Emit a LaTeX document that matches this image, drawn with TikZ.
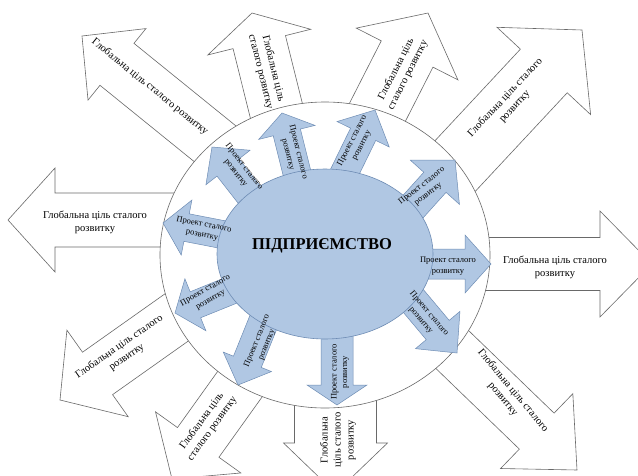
\documentclass[tikz,border=0pt]{standalone}
\usepackage{fontspec}
\setmainfont{Liberation Serif}
\usetikzlibrary{shapes.geometric}
\definecolor{pblue}{RGB}{176,199,227}
\definecolor{pedge}{RGB}{110,140,180}
\definecolor{gline}{RGB}{105,105,105}
% #1 style, #2 tip x, #3 tip y, #4 angle, #5 length, #6 body half-width, #7 head half-width, #8 head length
\newcommand{\blockarr}[8]{\draw[#1,shift={(#2,#3)},rotate=#4] (0,0) -- (-#8,#7) -- (-#8,#6) -- (-#5,#6) -- (-#5,-#6) -- (-#8,-#6) -- (-#8,-#7) -- cycle;}
\begin{document}
\begin{tikzpicture}[x=1pt,y=-1pt,
  goal/.style={draw=gline, fill=white, line width=0.6pt},
  proj/.style={draw=pedge, fill=pblue, line width=0.5pt},
  gtext/.style={font=\fontsize{10.5}{13}\selectfont, align=center, inner sep=0pt},
  ptext/.style={font=\fontsize{8.5}{10.5}\selectfont, align=center, inner sep=0pt},
  ring/.style={ellipse, draw=gline, fill=white, line width=0.6pt, inner sep=0pt},
  core/.style={ellipse, draw=pedge, fill=pblue, line width=0.6pt, inner sep=0pt},
]
\useasboundingbox (0,0) rectangle (638,475);
\clip (0,0) rectangle (638,475);
\fill[white] (0,0) rectangle (638,475);
% outer goal arrows
\blockarr{goal}{8}{220}{180}{250}{27}{52}{47}
\blockarr{goal}{82}{36}{141}{245}{27}{46}{45}
\blockarr{goal}{252}{13}{104}{175}{27}{53}{30}
\blockarr{goal}{428}{13}{63}{185}{29}{57}{46}
\blockarr{goal}{582}{30}{47}{260}{32}{64}{56}
\blockarr{goal}{652}{264}{0}{250}{26.5}{53}{52}
\blockarr{goal}{577}{470}{-44}{250}{25}{52}{56}
\blockarr{goal}{335.5}{493}{-90}{160}{41}{52}{50}
\blockarr{goal}{172}{479}{-125.6}{190}{25.5}{52.5}{45}
\blockarr{goal}{60}{400}{-144.7}{220}{26}{53}{46}
% ring
\node[ring, minimum width=330pt, minimum height=306pt] (ringnode) at (325,255) {};
% project arrows
\blockarr{proj}{163}{223}{169}{100}{14}{28}{24}
\blockarr{proj}{212}{147}{128}{95}{14}{28}{26}
\blockarr{proj}{282}{113}{104}{90}{14}{29}{20}
\blockarr{proj}{375}{110}{64}{95}{14}{29}{27}
\blockarr{proj}{455}{160}{48}{100}{15}{33}{30}
\blockarr{proj}{491}{264}{0}{105}{15}{29}{26}
\blockarr{proj}{457}{353}{-50}{105}{15}{29}{30}
\blockarr{proj}{337}{405}{-90}{95}{16}{30}{20}
\blockarr{proj}{238}{385}{-112}{95}{15}{26}{25}
\blockarr{proj}{175}{313}{-158}{100}{14}{28}{22}
% core
\node[core, minimum width=216pt, minimum height=170pt] (corenode) at (325,254) {};
\node[font=\fontsize{16.5}{18}\selectfont\bfseries, inner sep=0pt] (title) at (322,246) {ПІДПРИЄМСТВО};
% goal texts
\node[gtext] (gA) at (95,222) {Глобальна ціль сталого\\розвитку};
\node[gtext, rotate=-39] (gB) at (150,87) {Глобальна ціль сталого розвитку};
\node[gtext, rotate=-76] (gC) at (267,70) {Глобальна ціль\\сталого розвитку};
\node[gtext, rotate=63] (gD) at (402,72) {Глобальна ціль\\сталого розвитку};
\node[gtext, rotate=47] (gE) at (510,102) {Глобальна ціль сталого\\розвитку};
\node[gtext] (gF) at (555,267) {Глобальна ціль сталого\\розвитку};
\node[gtext, rotate=-50] (gG) at (508,395) {Глобальна ціль сталого\\розвитку};
\node[gtext, rotate=90] (gH) at (338,440) {Глобальна\\ціль сталого\\розвитку};
\node[gtext, rotate=54] (gI) at (207,425) {Глобальна ціль\\сталого розвитку};
\node[gtext, rotate=35] (gJ) at (123,352) {Глобальна ціль сталого\\розвитку};
% project texts
\node[ptext, rotate=-11] (p1) at (203,230) {Проект сталого\\розвитку};
\node[ptext, rotate=-52] (p2) at (240,170) {Проект сталого\\розвитку};
\node[ptext, rotate=-76] (p3) at (293,153) {Проект сталого\\розвитку};
\node[ptext, rotate=63] (p4) at (357,143) {Проект сталого\\розвитку};
\node[ptext, rotate=38] (p5) at (425,190) {Проект сталого\\розвитку};
\node[ptext] (p6) at (448,266) {Проект сталого\\розвитку};
\node[ptext, rotate=-50] (p7) at (425,317) {Проект сталого\\розвитку};
\node[ptext, rotate=90] (p8) at (340,372) {Проект сталого\\розвитку};
\node[ptext, rotate=68] (p9) at (262,343) {Проект сталого\\розвитку};
\node[ptext, rotate=30] (p10) at (208,295) {Проект сталого\\розвитку};
\end{tikzpicture}
\end{document}
